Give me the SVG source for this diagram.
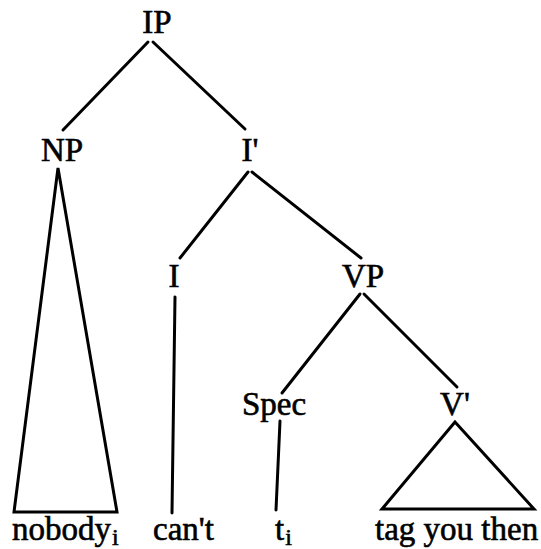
<svg xmlns="http://www.w3.org/2000/svg" width="541" height="549" viewBox="0 0 541 549">
<style>
  .lbl { font-family: "Liberation Serif", "Times New Roman", serif; font-size: 33px; fill: #000; stroke: #000; stroke-width: 0.6; }
  .sub { font-size: 24px; }
  .edge { stroke: #000; stroke-width: 3; fill: none; stroke-linecap: round; stroke-linejoin: miter; }
</style>
<rect width="541" height="549" fill="#fff"/>
<g id="connectors">
  <line class="edge" x1="148" y1="42" x2="63" y2="130"/>
  <line class="edge" x1="153" y1="42" x2="245" y2="129"/>
  <polygon class="edge" points="58,168 14,512 117,512"/>
  <line class="edge" x1="248" y1="172" x2="180" y2="258"/>
  <line class="edge" x1="252" y1="172" x2="361" y2="258"/>
  <line class="edge" x1="175" y1="297" x2="172" y2="513"/>
  <line class="edge" x1="360" y1="294" x2="282" y2="393"/>
  <line class="edge" x1="364" y1="294" x2="457" y2="387"/>
  <line class="edge" x1="280" y1="421" x2="276" y2="510"/>
  <polygon class="edge" points="455,422 382,509 534,509"/>
</g>
<g id="IP"><text class="lbl" x="157" y="33" text-anchor="middle">IP</text></g>
<g id="NP"><text class="lbl" x="62" y="161" text-anchor="middle">NP</text></g>
<g id="Ibar"><text class="lbl" x="250" y="161" text-anchor="middle">I'</text></g>
<g id="I"><text class="lbl" x="174" y="287" text-anchor="middle">I</text></g>
<g id="VP"><text class="lbl" x="363" y="287" text-anchor="middle">VP</text></g>
<g id="Spec"><text class="lbl" x="274" y="415" text-anchor="middle">Spec</text></g>
<g id="Vbar"><text class="lbl" x="455" y="415" text-anchor="middle">V'</text></g>
<g id="nobody"><text class="lbl" x="12" y="540">nobody<tspan class="sub" dx="1" dy="5">i</tspan></text></g>
<g id="cant"><text class="lbl" x="153" y="540">can't</text></g>
<g id="trace"><text class="lbl" x="275" y="540">t<tspan class="sub" dx="1" dy="5">i</tspan></text></g>
<g id="tagyouthen"><text class="lbl" x="375" y="540">tag you then</text></g>
</svg>
